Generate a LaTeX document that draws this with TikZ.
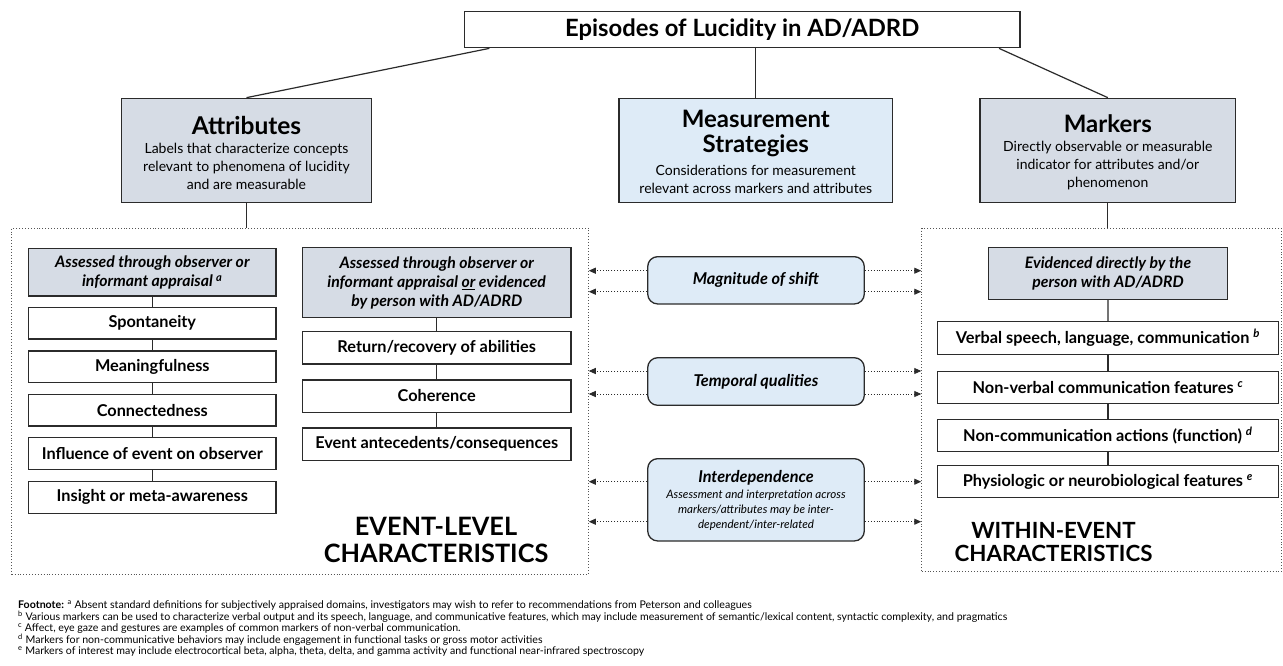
\documentclass[tikz,border=0pt]{standalone}
\usepackage{fontspec}
\setmainfont{Lato}
\usetikzlibrary{arrows.meta,calc}
\definecolor{grayblue}{HTML}{D6DCE5}
\definecolor{lightblue}{HTML}{DEEBF7}
\definecolor{edge}{HTML}{2B2B2B}
\definecolor{dotc}{HTML}{555555}
\newcommand{\fz}[2]{\fontsize{#1}{#2}\selectfont}
\begin{document}
\begin{tikzpicture}[x=1pt,y=-1pt,
  plainbox/.style={draw=edge, line width=1.3pt, fill=white, inner sep=0pt, align=center, font=\fz{16.3}{19}\bfseries},
  graybox/.style={plainbox, fill=grayblue},
  hdr/.style={graybox, font=\fz{15.8}{19}\bfseries\itshape},
  strat/.style={draw=edge, line width=1.3pt, fill=lightblue, rounded corners=10pt, inner sep=0pt, align=center, minimum width=216.6pt, font=\fz{16.3}{18}\bfseries\itshape},
  region/.style={draw=dotc, dotted, line width=0.9pt, inner sep=0pt},
  link/.style={draw=edge, line width=1.2pt},
  darr/.style={draw=edge, dotted, line width=0.9pt, -{Triangle[length=7pt,width=6pt]}},
  txt/.style={inner sep=0pt, align=center, text=black}]
\fill[white] (0,0) rectangle (1283,665);
\useasboundingbox (0,0) rectangle (1283,665);

% top level
\node[plainbox, minimum width=555.7pt, minimum height=36pt, font=\fz{23.8}{26}\bfseries] (top) at (742.2,29.7) {Episodes of Lucidity in AD/ADRD};

\node[graybox, minimum width=250.5pt, minimum height=104pt] (attr) at (246.5,150.3) {};
\node[txt, font=\fz{24.5}{26}\bfseries] (attrT) at (246.5,125) {Attributes};
\node[txt, font=\fz{14}{18}] (attrS) at (246.5,166.4) {Labels that characterize concepts\\relevant to phenomena of lucidity\\and are measurable};

\node[plainbox, fill=lightblue, minimum width=273.7pt, minimum height=104pt] (meas) at (755.8,150.3) {};
\node[txt, font=\fz{24}{25}\bfseries] (measT) at (755.8,133.3) {Measurement\\Strategies};
\node[txt, font=\fz{14}{17.6}] (measS) at (755.8,179.5) {Considerations for measurement\\relevant across markers and attributes};

\node[graybox, minimum width=255.7pt, minimum height=104pt] (mark) at (1107.8,150.3) {};
\node[txt, font=\fz{24}{26}\bfseries] (markT) at (1107.8,124) {Markers};
\node[txt, font=\fz{14}{17.8}] (markS) at (1107.8,165.6) {Directly observable or measurable\\indicator for attributes and/or\\phenomenon};

\draw[link] ($(top.south west)+(25.7,0)$) -- (attr.north);
\draw[link] (meas.north) -- (meas.north |- top.south);
\draw[link] ($(top.south east)+(-21.7,0)$) -- (mark.north);

% regions
\node[region, minimum width=576.6pt, minimum height=345.7pt] (leftR) at (300,401.15) {};
\node[region, minimum width=359.3pt, minimum height=343.4pt] (rightR) at (1101.35,400) {};
\draw[link] (attr.south) -- (attr.south |- leftR.north);
\draw[link] (mark.south) -- (mark.south |- rightR.north);

% left column
\node[hdr, minimum width=247.3pt, minimum height=47.7pt] (h1) at (152.3,272.2) {Assessed through observer or\\informant appraisal \textsuperscript{a}};
\node[plainbox, minimum width=247.3pt, minimum height=31.7pt] (a1) at (152.3,323.2) {Spontaneity};
\node[plainbox, minimum width=247.3pt, minimum height=31.7pt] (a2) at (152.3,366.8) {Meaningfulness};
\node[plainbox, minimum width=247.3pt, minimum height=31.7pt] (a3) at (152.3,410.2) {Connectedness};
\node[plainbox, minimum width=247.3pt, minimum height=31.7pt] (a4) at (152.3,453.5) {Influence of event on observer};
\node[plainbox, minimum width=247.3pt, minimum height=31.7pt] (a5) at (152.3,497.3) {Insight or meta-awareness};
\draw[link] (h1.south) -- (a1.north);
\draw[link] (a1.south) -- (a2.north);
\draw[link] (a2.south) -- (a3.north);
\draw[link] (a3.south) -- (a4.north);
\draw[link] (a4.south) -- (a5.north);

% middle column
\node[hdr, minimum width=268.7pt, minimum height=70pt] (h2) at (436.7,282.7) {Assessed through observer or\\informant appraisal \underline{or} evidenced\\by person with AD/ADRD};
\node[plainbox, minimum width=268.7pt, minimum height=32.3pt] (b1) at (436.7,347.8) {Return/recovery of abilities};
\node[plainbox, minimum width=268.7pt, minimum height=32.3pt] (b2) at (436.7,396) {Coherence};
\node[plainbox, minimum width=268.7pt, minimum height=32.3pt] (b3) at (436.7,444) {Event antecedents/consequences};
\draw[link] (h2.south) -- (b1.north);
\draw[link] (b1.south) -- (b2.north);
\draw[link] (b2.south) -- (b3.north);

% right column
\node[hdr, minimum width=239.4pt, minimum height=51.6pt] (h3) at (1108,273.5) {Evidenced directly by the\\person with AD/ADRD};
\node[plainbox, minimum width=341.2pt, minimum height=32.4pt] (c1) at (1107.9,338) {Verbal speech, language, communication \textsuperscript{\itshape b}};
\node[plainbox, minimum width=341.2pt, minimum height=32pt] (c2) at (1107.9,387.5) {Non-verbal communication features \textsuperscript{\itshape c}};
\node[plainbox, minimum width=341.2pt, minimum height=32pt] (c3) at (1107.9,435.8) {Non-communication actions (function) \textsuperscript{\itshape d}};
\node[plainbox, minimum width=341.2pt, minimum height=32pt] (c4) at (1107.9,481.7) {Physiologic or neurobiological features \textsuperscript{\itshape e}};
\draw[link] (h3.south) -- (c1.north);
\draw[link] (c1.south) -- (c2.north);
\draw[link] (c2.south) -- (c3.north);
\draw[link] (c3.south) -- (c4.north);

% strategies
\node[strat, minimum height=47.3pt] (mag) at (756,280.3) {Magnitude of shift};
\node[strat, minimum height=47.6pt] (temp) at (756,381.5) {Temporal qualities};
\node[strat, minimum height=82.3pt] (inter) at (756,499.8) {};
\node[txt, font=\fz{16.3}{18}\bfseries\itshape] (interT) at (756,478.3) {Interdependence};
\node[txt, font=\fz{11.6}{15.2}\itshape] (interS) at (756,510.3) {Assessment and interpretation across\\markers/attributes may be inter-\\dependent/inter-related};

\coordinate (y1) at (0,270.7);
\coordinate (y2) at (0,291.7);
\coordinate (y3) at (0,371);
\coordinate (y4) at (0,394);
\coordinate (y5) at (0,481.7);
\coordinate (y6) at (0,521.7);
\draw[darr] (mag.west |- y1) -- (leftR.east |- y1);
\draw[darr] (mag.west |- y2) -- (leftR.east |- y2);
\draw[darr] (temp.west |- y3) -- (leftR.east |- y3);
\draw[darr] (temp.west |- y4) -- (leftR.east |- y4);
\draw[darr] (inter.west |- y5) -- (leftR.east |- y5);
\draw[darr] (inter.west |- y6) -- (leftR.east |- y6);
\draw[darr] (mag.east |- y1) -- (rightR.west |- y1);
\draw[darr] (mag.east |- y2) -- (rightR.west |- y2);
\draw[darr] (temp.east |- y3) -- (rightR.west |- y3);
\draw[darr] (temp.east |- y4) -- (rightR.west |- y4);
\draw[darr] (inter.east |- y5) -- (rightR.west |- y5);
\draw[darr] (inter.east |- y6) -- (rightR.west |- y6);

% region titles
\node[txt, font=\fz{25.3}{26.6}\bfseries] (evl) at (436,540) {EVENT-LEVEL\\CHARACTERISTICS};
\node[txt, font=\fz{22.3}{23.3}\bfseries] (wel) at (1053.5,541.7) {WITHIN-EVENT\\CHARACTERISTICS};

% footnotes
\node[txt, anchor=base west, font=\fz{10.6}{12}] (fn1) at (18,608.5) {\textbf{Footnote:} \textsuperscript{a} Absent standard definitions for subjectively appraised domains, investigators may wish to refer to recommendations from Peterson and colleagues};
\node[txt, anchor=base west, font=\fz{10.6}{12}] (fn2) at (18,620) {\textsuperscript{b} Various markers can be used to characterize verbal output and its speech, language, and communicative features, which may include measurement of semantic/lexical content, syntactic complexity, and pragmatics};
\node[txt, anchor=base west, font=\fz{10.6}{12}] (fn3) at (18,631.5) {\textsuperscript{c} Affect, eye gaze and gestures are examples of common markers of non-verbal communication.};
\node[txt, anchor=base west, font=\fz{10.6}{12}] (fn4) at (18,643) {\textsuperscript{d} Markers for non-communicative behaviors may include engagement in functional tasks or gross motor activities};
\node[txt, anchor=base west, font=\fz{10.6}{12}] (fn5) at (18,654.5) {\textsuperscript{e} Markers of interest may include electrocortical beta, alpha, theta, delta, and gamma activity and functional near-infrared spectroscopy};
\end{tikzpicture}
\end{document}
